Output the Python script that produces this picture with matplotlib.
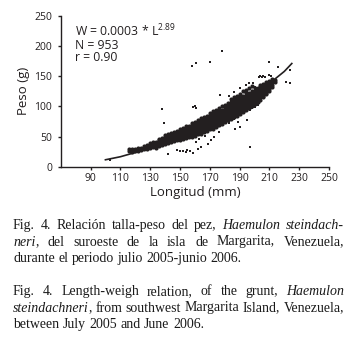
import matplotlib
matplotlib.use('Agg')
import matplotlib.pyplot as plt

plt.rcParams['font.family'] = ['Open Sans', 'DejaVu Sans']
plt.rcParams['mathtext.fontset'] = 'custom'
plt.rcParams['mathtext.rm'] = 'Open Sans'

ink = '#231f20'

# fitted curve
curve_len = [100, 110, 120, 130, 140, 150, 160, 170, 180, 190, 200, 210, 220, 225]
curve_wt = [12, 17, 24, 31, 39, 48, 59, 71, 85, 100, 118, 138, 158, 171]

# dense cloud: weights (g) read at each length (mm)
band_len = [116, 118, 120, 122, 124, 126, 128, 130, 132, 134, 136, 138, 140, 142,
            144, 146, 148, 150, 152, 154, 156, 158, 160, 162, 164, 166, 168, 170,
            172, 174, 176, 178, 180, 182, 184, 186, 188, 190, 192, 194, 196, 198,
            200, 202, 204, 206, 208, 210, 212, 214]
band_wt = [
    [26, 29], [25, 28, 30], [27, 29], [26, 29, 32], [28, 31], [30, 32, 35],
    [29, 33, 36], [31, 34, 36, 39], [33, 35, 38, 41], [32, 36, 39, 42],
    [35, 38, 40, 44, 47], [37, 39, 42, 45, 48], [38, 41, 44, 46, 50, 53],
    [40, 42, 45, 48, 51, 55], [41, 45, 47, 50, 53, 57], [43, 46, 49, 52, 55, 58],
    [44, 47, 50, 53, 56, 60], [45, 48, 51, 54, 57, 59, 63],
    [46, 50, 52, 55, 58, 61, 65], [48, 51, 53, 57, 60, 62, 67],
    [49, 52, 55, 58, 61, 64, 68], [50, 54, 56, 59, 62, 66, 69, 73],
    [52, 55, 58, 60, 63, 67, 70, 74], [54, 56, 60, 63, 65, 69, 72, 77],
    [55, 59, 62, 64, 68, 71, 73, 77, 81], [58, 60, 64, 67, 69, 73, 76, 78, 83],
    [59, 63, 66, 68, 72, 75, 77, 81, 85], [62, 64, 68, 71, 73, 77, 80, 82, 86, 90],
    [63, 67, 70, 72, 76, 79, 81, 85, 88, 92], [66, 68, 72, 75, 77, 81, 84, 86, 90, 94],
    [69, 71, 75, 78, 80, 84, 87, 89, 93, 97], [71, 75, 77, 81, 84, 86, 90, 93, 95, 100],
    [74, 76, 80, 83, 85, 89, 92, 94, 98, 102], [77, 79, 83, 86, 88, 92, 95, 97, 101, 105],
    [79, 83, 86, 88, 92, 95, 97, 101, 104, 107, 112],
    [82, 85, 87, 91, 94, 96, 100, 103, 105, 110, 115],
    [85, 87, 91, 94, 96, 100, 103, 105, 109, 112, 118],
    [87, 91, 94, 96, 100, 103, 105, 109, 112, 116, 121],
    [91, 93, 97, 100, 102, 106, 109, 111, 115, 118, 125],
    [94, 96, 100, 103, 105, 109, 112, 114, 118, 122, 128],
    [97, 101, 104, 106, 110, 113, 115, 119, 123, 131],
    [101, 103, 107, 110, 112, 116, 119, 121, 125, 134],
    [104, 106, 110, 113, 115, 119, 122, 126, 130],
    [108, 110, 114, 117, 119, 123, 127, 131],
    [111, 115, 118, 120, 124, 128, 132, 136],
    [116, 118, 122, 125, 129, 133, 137],
    [120, 123, 127, 132, 135, 140],
    [126, 129, 134, 138, 142],
    [133, 136, 141, 145],
    [140, 144],
]

# scattered points away from the cloud
out_len = [103, 138, 139, 142, 158, 161, 170, 178, 159, 160, 161,
           148, 150, 152, 154, 155, 157, 159, 162,
           161, 163, 164, 167, 169, 171, 173, 171, 173, 176,
           183, 185, 186, 187, 189, 190, 195, 197, 198, 200, 202,
           177, 183, 186, 190, 194, 196, 199, 200,
           203, 204, 205, 206, 207, 210, 211,
           210, 216, 224, 221, 224, 197]
out_wt = [11, 96, 73, 21, 167, 171, 174, 192, 99, 101, 98,
          28, 26, 27, 25, 28, 26, 24, 29,
          41, 47, 33, 52, 38, 44, 50, 61, 66, 58,
          72, 94, 80, 63, 74, 66, 77, 94, 97, 99, 102,
          119, 117, 124, 130, 136, 138, 139, 133,
          149, 150, 148, 150, 149, 152, 150,
          173, 166, 160, 141, 139, 33]

xticks = [90, 110, 130, 150, 170, 190, 210, 230, 250]
yticks = [0, 50, 100, 150, 200, 250]

fig = plt.figure(figsize=(3.55, 3.48), dpi=100)
ax = fig.add_axes([0.171, 0.520, 0.756, 0.435])

xs = [l for l, ws in zip(band_len, band_wt) for w in ws]
ys = [w for ws in band_wt for w in ws]
ax.scatter(xs, ys, s=9, marker='o', color=ink, linewidths=0)
ax.scatter(out_len, out_wt, s=4, marker='s', color=ink, linewidths=0)
ax.plot(curve_len, curve_wt, color=ink, lw=1.2)

ax.set_xlim(70, 250)
ax.set_ylim(0, 250)
ax.set_xticks(xticks)
ax.set_yticks(yticks)
for s in ['top', 'right']:
    ax.spines[s].set_visible(False)
for s in ['left', 'bottom']:
    ax.spines[s].set_linewidth(1.0)
    ax.spines[s].set_color(ink)
ax.tick_params(length=2.2, width=1.0, color=ink, labelsize=7.5, labelcolor=ink)
ax.tick_params(axis='y', pad=4)
ax.tick_params(axis='x', pad=2)
ax.set_xlabel('Longitud (mm)', fontsize=9.5, color=ink, labelpad=1.5)
ax.set_ylabel('Peso (g)', fontsize=9.5, color=ink, labelpad=3)

ax.text(0.053, 0.955, 'W = 0.0003 * L$^{\\mathrm{2.89}}$\nN = 953\nr = 0.90',
        transform=ax.transAxes, fontsize=8.8, color=ink, va='top', linespacing=0.95)

# captions, justified by hand
W, H = 355, 348
x_left, x_right = 13, 344
cap_size = 10
serif = ['Liberation Serif', 'DejaVu Serif']
renderer = fig.canvas.get_renderer()


def segments(word):
    parts = word.split('*')
    return [(p, i % 2 == 1) for i, p in enumerate(parts) if p]


def raw_width(txt, italic):
    t = fig.text(0, 0, txt, fontsize=cap_size, family=serif,
                 style='italic' if italic else 'normal')
    w = t.get_window_extent(renderer).width
    t.remove()
    return w


def width(txt, italic):
    # advance width: bracket the text so side bearings count
    return raw_width('|' + txt + '|', italic) - raw_width('||', italic)


space = width(' ', False)


def caption_line(line, y, justify=True):
    words = [segments(w) for w in line.split(' ')]
    widths = [[width(p, it) for p, it in w] for w in words]
    total = sum(sum(ws) for ws in widths)
    if justify:
        gap = (x_right - x_left - total) / (len(words) - 1)
    else:
        gap = space
    x = x_left
    for w, ws in zip(words, widths):
        for (p, it), pw in zip(w, ws):
            fig.text(x / W, 1 - y / H, p, fontsize=cap_size, family=serif,
                     style='italic' if it else 'normal', va='baseline', color='#1a1a1a')
            x += pw
        x += gap


cap_es = ['Fig. 4. Relación talla-peso del pez, *Haemulon* *steindach-*',
          '*neri*, del suroeste de la isla de Margarita, Venezuela,',
          'durante el periodo julio 2005-junio 2006.']
cap_en = ['Fig. 4. Length-weigh relation, of the grunt, *Haemulon*',
          '*steindachneri*, from southwest Margarita Island, Venezuela,',
          'between July 2005 and June 2006.']
base_es = [229, 245.5, 262]
base_en = [295, 311.5, 328]

for i, (line, y) in enumerate(zip(cap_es, base_es)):
    caption_line(line, y, justify=i < 2)
for i, (line, y) in enumerate(zip(cap_en, base_en)):
    caption_line(line, y, justify=i < 2)

fig.savefig('out.png', dpi=100)
